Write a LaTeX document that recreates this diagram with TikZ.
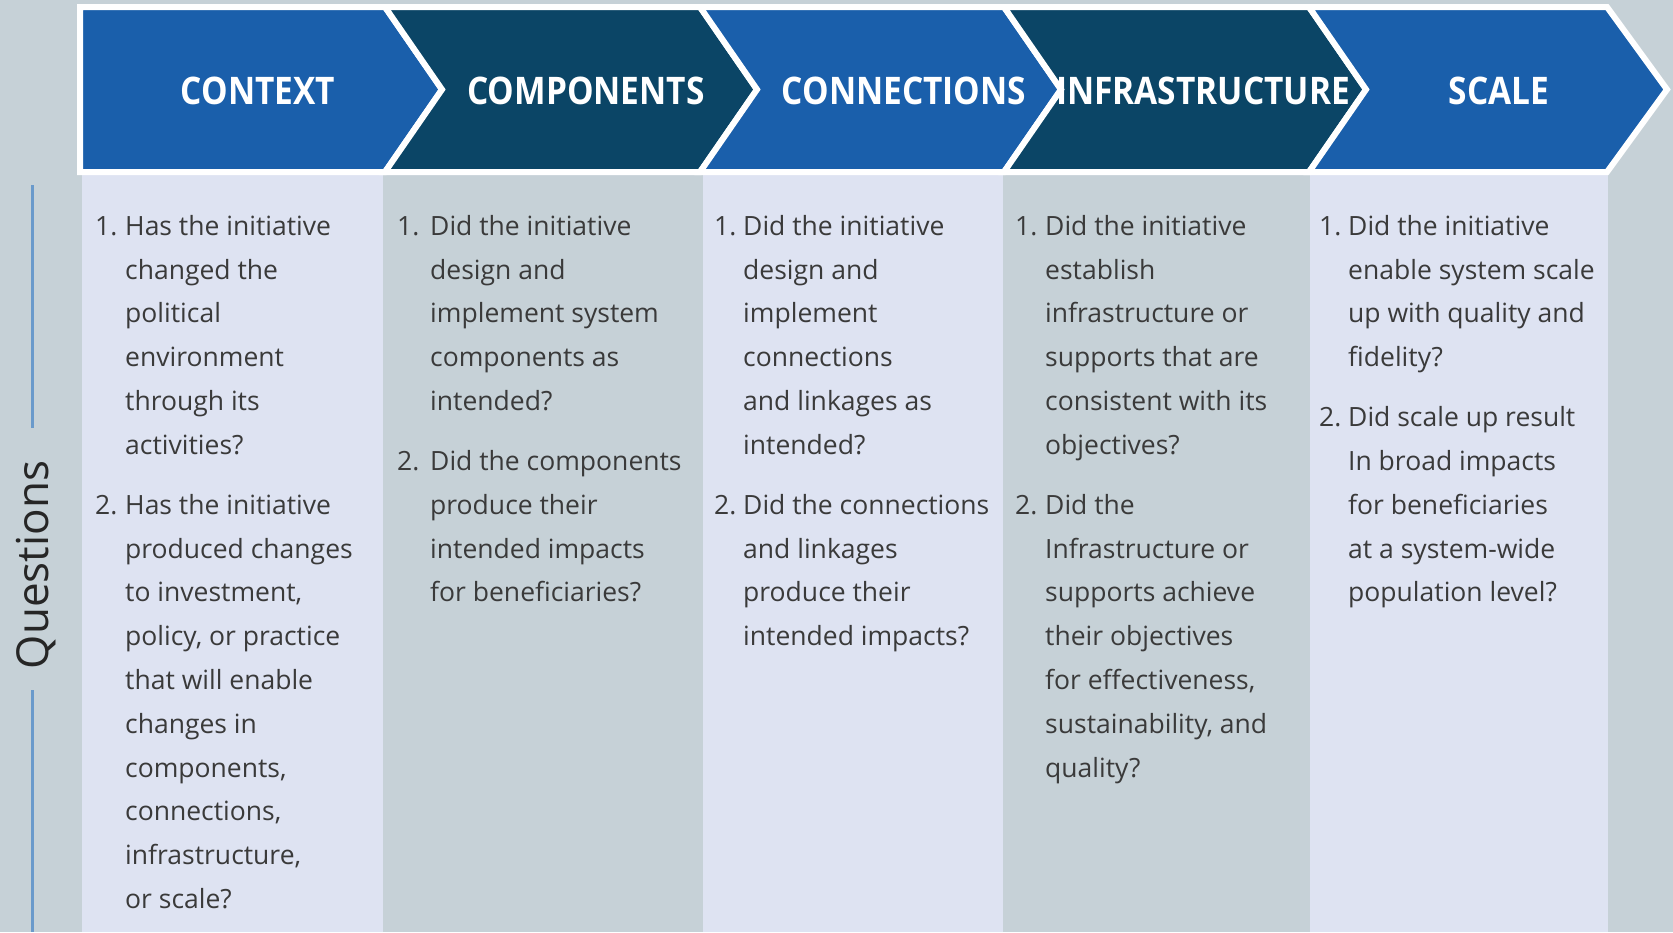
\documentclass[tikz,border=0pt]{standalone}
\usepackage{fontspec}
\setmainfont{Open Sans}
\newfontfamily\hdrfont[FakeStretch=0.88]{Open Sans}
\newcommand\qstrut{\rule{0pt}{30pt}}
\definecolor{bg}{HTML}{C6D1D7}
\definecolor{lightcol}{HTML}{DEE3F2}
\definecolor{blueA}{HTML}{1A5FAB}
\definecolor{tealB}{HTML}{0B4566}
\definecolor{qblue}{HTML}{6A9ACB}
\definecolor{bodytxt}{HTML}{3A3A3A}
\begin{document}
\begin{tikzpicture}[x=1pt,y=-1pt,
  chev/.style={line width=6pt, draw=white, line join=miter},
  hdr/.style={anchor=base, inner sep=0, text=white, font=\hdrfont\bfseries\fontsize{38}{40}\selectfont},
  num/.style={anchor=base west, inner sep=0, text=bodytxt, font=\fontsize{26.5}{43.8}\selectfont},
  qtext/.style={anchor=north west, inner sep=0, align=left, text=bodytxt, font=\fontsize{26.5}{43.8}\selectfont},
  colbox/.style={fill=lightcol, draw=none},
  qrule/.style={draw=qblue, line width=3pt}]
\useasboundingbox (0,0) rectangle (1673,932);
\fill[bg] (0,0) rectangle (1673,932);
% columns
\fill[colbox] (82,175) rectangle (383,932);
\fill[colbox] (703,175) rectangle (1003,932);
\fill[colbox] (1310,175) rectangle (1608,932);
% chevrons
\filldraw[chev, fill=blueA] (80,7) -- (385,7) -- (442,89.5) -- (385,172) -- (80,172) -- cycle;
\filldraw[chev, fill=tealB] (385,7) -- (700,7) -- (757,89.5) -- (700,172) -- (385,172) -- (442,89.5) -- cycle;
\filldraw[chev, fill=blueA] (700,7) -- (1004,7) -- (1061,89.5) -- (1004,172) -- (700,172) -- (757,89.5) -- cycle;
\filldraw[chev, fill=tealB] (1004,7) -- (1309,7) -- (1366,89.5) -- (1309,172) -- (1004,172) -- (1061,89.5) -- cycle;
\filldraw[chev, fill=blueA] (1309,7) -- (1607,7) -- (1667,89.5) -- (1607,172) -- (1309,172) -- (1366,89.5) -- cycle;
% headers
\node[hdr] (h1) at (258,104) {CONTEXT};
\node[hdr] (h2) at (586,104) {COMPONENTS};
\node[hdr] (h3) at (904,104) {CONNECTIONS};
\node[hdr] (h4) at (1203,104) {INFRASTRUCTURE};
\node[hdr] (h5) at (1499,104) {SCALE};
% Questions label
\node[anchor=base, inner sep=0, rotate=90, text=black!85, font=\fontsize{44}{48}\selectfont] (qlab) at (48,565) {Questions};
\coordinate (qa) at (32,185);
\coordinate (qb) at (32,428);
\coordinate (qc) at (32,690);
\coordinate (qd) at (32,932);
\draw[qrule] (qa) -- (qb);
\draw[qrule] (qc) -- (qd);
% column 1
\node[num] (c1n1) at (95,235) {1.};
\node[qtext] (c1q1) at (125,205) {\qstrut Has the initiative\\changed the\\political\\environment\\through its\\activities?};
\node[num] (c1n2) at (95,514) {2.};
\node[qtext] (c1q2) at (125,484) {\qstrut Has the initiative\\produced changes\\to investment,\\policy, or practice\\that will enable\\changes in\\components,\\connections,\\infrastructure,\\or scale?};
% column 2
\node[num] (c2n1) at (397,235) {1.};
\node[qtext] (c2q1) at (430,205) {\qstrut Did the initiative\\design and\\implement system\\components as\\intended?};
\node[num] (c2n2) at (397,470.2) {2.};
\node[qtext] (c2q2) at (430,440.2) {\qstrut Did the components\\produce their\\intended impacts\\for beneficiaries?};
% column 3
\node[num] (c3n1) at (714,235) {1.};
\node[qtext] (c3q1) at (743,205) {\qstrut Did the initiative\\design and\\implement\\connections\\and linkages as\\intended?};
\node[num] (c3n2) at (714,514) {2.};
\node[qtext] (c3q2) at (743,484) {\qstrut Did the connections\\and linkages\\produce their\\intended impacts?};
% column 4
\node[num] (c4n1) at (1015,235) {1.};
\node[qtext] (c4q1) at (1045,205) {\qstrut Did the initiative\\establish\\infrastructure or\\supports that are\\consistent with its\\objectives?};
\node[num] (c4n2) at (1015,514) {2.};
\node[qtext] (c4q2) at (1045,484) {\qstrut Did the\\Infrastructure or\\supports achieve\\their objectives\\for effectiveness,\\sustainability, and\\quality?};
% column 5
\node[num] (c5n1) at (1319,235) {1.};
\node[qtext] (c5q1) at (1348,205) {\qstrut Did the initiative\\enable system scale\\up with quality and\\fidelity?};
\node[num] (c5n2) at (1319,426.4) {2.};
\node[qtext] (c5q2) at (1348,396.4) {\qstrut Did scale up result\\In broad impacts\\for beneficiaries\\at a system-wide\\population level?};
\end{tikzpicture}
\end{document}
